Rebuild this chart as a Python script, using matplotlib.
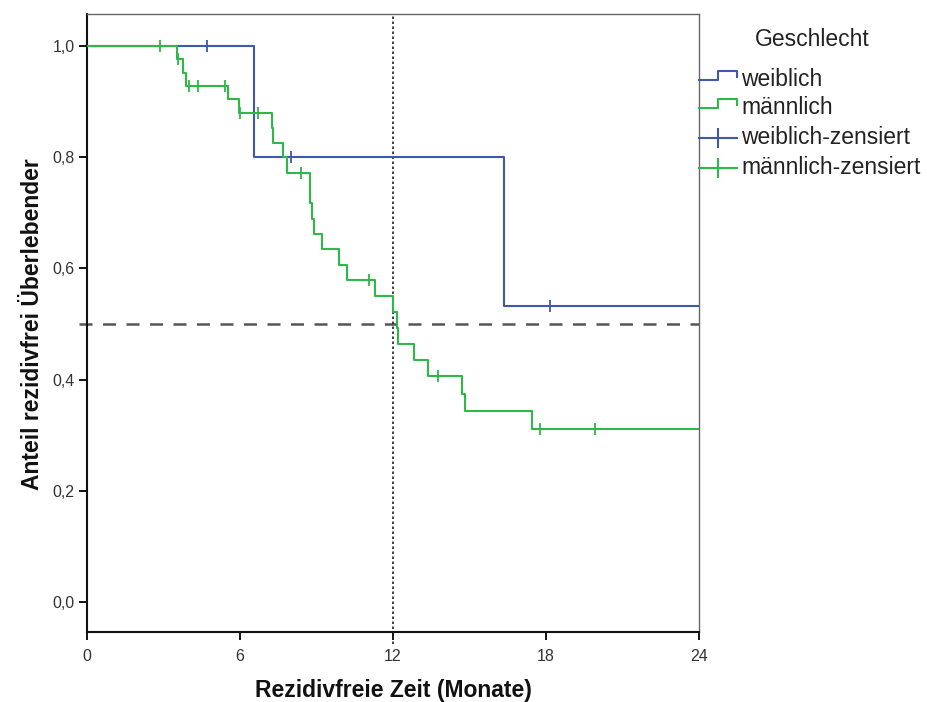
import matplotlib
matplotlib.use("Agg")
import matplotlib.pyplot as plt
from matplotlib.lines import Line2D
import numpy as np

plt.rcParams['font.family'] = ['Liberation Sans', 'DejaVu Sans']

# ---- data ----
w_times = [0, 6.55, 16.35]
w_surv = [1.0, 0.800, 0.533]
w_cens = [4.7, 8.0, 18.15]

m_times = [0, 3.52, 3.75, 3.88, 5.54, 5.97, 7.24, 7.30, 7.70, 7.83, 8.75, 8.81, 8.90,
           9.23, 9.88, 10.18, 11.29, 12.01, 12.14, 12.21, 12.84, 13.39, 14.72, 14.82, 17.46]
m_surv = [1.0, 0.976, 0.952, 0.928, 0.904, 0.879, 0.852, 0.826, 0.800, 0.772, 0.718, 0.689, 0.661,
          0.635, 0.606, 0.579, 0.551, 0.521, 0.492, 0.464, 0.435, 0.406, 0.374, 0.344, 0.312]
m_cens = [2.86, 3.58, 4.0, 4.35, 5.41, 6.0, 6.69, 8.38, 11.06, 13.75, 17.76, 19.92]

x_ticks = [0, 6, 12, 18, 24]
y_ticks = [0.0, 0.2, 0.4, 0.6, 0.8, 1.0]
y_ticklabels = ["0,0", "0,2", "0,4", "0,6", "0,8", "1,0"]
legend_labels = ["weiblich", "männlich", "weiblich-zensiert", "männlich-zensiert"]
legend_title = "Geschlecht"
t_max = 24
median_line = 0.5
time_line = 12

blue = '#3E58AC'
green = '#2EB848'

W, H = 927, 702
fig = plt.figure(figsize=(W / 100, H / 100), dpi=100)
ax = fig.add_axes([87 / W, (H - 632) / H, (699 - 87) / W, (632 - 14) / H])


def step_val(times, surv, t):
    idx = np.searchsorted(times, t, side='right') - 1
    return surv[idx]


for times, surv, cens, col in [(w_times, w_surv, w_cens, blue), (m_times, m_surv, m_cens, green)]:
    tt = list(times) + [t_max]
    ss = list(surv) + [surv[-1]]
    ax.step(tt, ss, where='post', color=col, lw=1.5, zorder=3)
    cy = [step_val(times, surv, c) for c in cens]
    ax.plot(cens, cy, ls='none', marker='|', ms=8, mew=1.3, color=col, zorder=4)

# reference lines
ax.plot([-0.3, t_max], [median_line, median_line], color='#555555', lw=1.8,
        dashes=(5.2, 4.2), clip_on=False, zorder=2)
ax.plot([time_line, time_line], [-0.075, 1.0576], color='#222222', lw=1.2,
        dashes=(1.5, 1.5), clip_on=False, zorder=2)

ax.set_xlim(0, t_max)
ax.set_ylim(-0.054, 1.0576)
ax.set_xticks(x_ticks)
ax.set_xticklabels([str(v) for v in x_ticks])
ax.set_yticks(y_ticks)
ax.set_yticklabels(y_ticklabels)
ax.tick_params(axis='both', direction='out', length=6, width=1.3, labelsize=11.5, colors='black',
               labelcolor='#333333', pad=3)
ax.tick_params(axis='x', pad=6)

for s in ['left', 'bottom']:
    ax.spines[s].set_color('#111111')
    ax.spines[s].set_linewidth(1.5)
for s in ['top', 'right']:
    ax.spines[s].set_color('#666666')
    ax.spines[s].set_linewidth(1.0)


def px(x, y):
    return x / W, (H - y) / H


fig.text(*px(393, 690), "Rezidivfreie Zeit (Monate)", fontsize=16.5, fontweight='bold',
         ha='center', va='center', color='#111111')
fig.text(*px(33, 324), "Anteil rezidivfrei Überlebender", fontsize=16.5, fontweight='bold',
         ha='center', va='center', rotation=90, color='#111111')

# ---- legend (manual, in pixel coordinates) ----
fig.text(*px(812, 40), legend_title, fontsize=16.5, ha='center', va='center', color='#222222')
rows = [80, 108, 138, 168]
cols = [blue, green, blue, green]
for i, (yy, lab, col) in enumerate(zip(rows, legend_labels, cols)):
    if i < 2:
        xs = [699, 718, 718, 737, 737]
        ys = [yy, yy, yy - 9, yy - 9, yy - 3]
        fx = [px(a, b)[0] for a, b in zip(xs, ys)]
        fy = [px(a, b)[1] for a, b in zip(xs, ys)]
        fig.add_artist(Line2D(fx, fy, color=col, lw=1.5))
    else:
        x0, y0 = px(699, yy)
        x1, _ = px(737, yy)
        fig.add_artist(Line2D([x0, x1], [y0, y0], color=col, lw=1.5))
        xm, _ = px(718, yy)
        fig.add_artist(Line2D([xm], [y0], marker='|', ms=15, mew=1.5, color=col, ls='none'))
    fig.text(*px(741, yy - 1), lab, fontsize=16.5, ha='left', va='center', color='#222222')

fig.savefig("out.png", dpi=100)
